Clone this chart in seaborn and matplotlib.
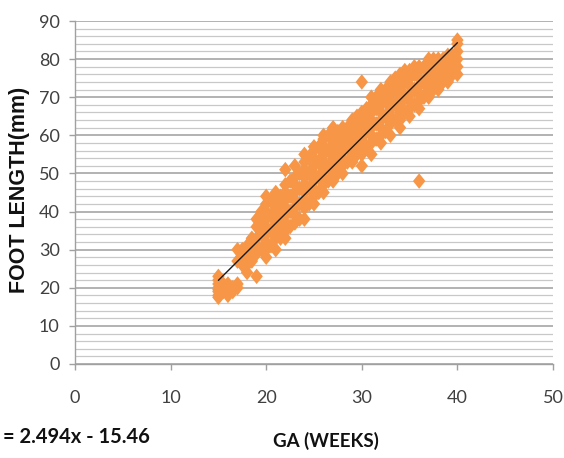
import matplotlib
matplotlib.use("Agg")
import matplotlib.pyplot as plt
import seaborn as sns
import numpy as np
import pandas as pd

# ---- data ----
weeks = [15, 15.5, 16, 16.5, 17, 17.5, 18, 18.5, 19, 19.5, 20, 20.5, 21, 21.5,
         22, 22.5, 23, 23.5, 24, 24.5, 25, 25.5, 26, 26.5, 27, 27.5, 28, 28.5,
         29, 29.5, 30, 30.5, 31, 31.5, 32, 32.5, 33, 33.5, 34, 34.5, 35, 35.5,
         36, 36.5, 37, 37.5, 38, 38.5, 39, 39.5, 40]
foot_lengths = [
    [17.5, 18, 19, 19.5, 20, 21, 22, 23],
    [19, 21],
    [18, 19, 20, 21],
    [19, 20],
    [20, 21, 27, 30],
    [26, 28, 30],
    [24, 26, 28, 30, 31],
    [27, 30, 33],
    [23, 29, 31, 33, 36, 38],
    [30, 34, 38, 40],
    [28, 30, 32, 34, 36, 38, 40, 42, 44],
    [31, 35, 39, 43],
    [30, 33, 35, 37, 39, 41, 43, 45],
    [33, 37, 41, 44],
    [33, 35, 37, 39, 41, 43, 45, 47, 51],
    [36, 40, 44, 48],
    [37, 39, 41, 43, 45, 47, 49, 52],
    [38, 42, 46, 50],
    [38, 41, 43, 45, 47, 49, 51, 53, 55],
    [42, 46, 50, 54],
    [42, 44, 46, 48, 50, 52, 54, 56, 57],
    [45, 49, 53, 57],
    [45, 47, 49, 51, 53, 55, 57, 59, 60],
    [48, 52, 56, 60],
    [48, 50, 52, 54, 56, 58, 60, 62],
    [50, 54, 58, 61],
    [50, 52, 54, 56, 58, 60, 62],
    [53, 57, 60, 62],
    [53, 55, 57, 59, 61, 63, 64],
    [55, 59, 62, 65],
    [52, 55, 57, 59, 61, 63, 65, 66, 74],
    [57, 61, 64, 67],
    [55, 58, 60, 62, 64, 66, 68, 70],
    [59, 63, 67, 70],
    [58, 60, 62, 64, 66, 68, 70, 72],
    [61, 65, 69, 72],
    [60, 63, 65, 67, 69, 71, 73, 74],
    [64, 68, 72, 75],
    [62, 64, 66, 68, 70, 72, 74, 76],
    [66, 70, 74, 77],
    [65, 67, 69, 71, 73, 75, 77],
    [68, 72, 76, 78],
    [48, 67, 69, 71, 73, 75, 77, 78],
    [70, 74, 78],
    [70, 72, 74, 76, 78, 80],
    [72, 76, 80],
    [72, 74, 76, 78, 80],
    [74, 77, 80],
    [74, 76, 78, 80, 81],
    [76, 79, 81],
    [76, 78, 80, 82, 84, 85],
]
slope = 2.494
intercept = -15.46
x_ticks = [0, 10, 20, 30, 40, 50]
y_ticks = [0, 10, 20, 30, 40, 50, 60, 70, 80, 90]
x_label = "GA (WEEKS)"
y_label = "FOOT LENGTH(mm)"
equation = "= 2.494x - 15.46"

rows = [(w, v) for w, vals in zip(weeks, foot_lengths) for v in vals]
df = pd.DataFrame(rows, columns=["ga", "foot"])
trend_x = [min(weeks), max(weeks)]
trend = pd.DataFrame({"ga": trend_x, "foot": [slope * x + intercept for x in trend_x]})

sns.set_theme(style="white")
plt.rcParams["font.family"] = ["Lato", "DejaVu Sans"]

fig = plt.figure(figsize=(5.64, 4.58), dpi=100)
ax = fig.add_axes([75 / 564, 1 - 364 / 458, 478 / 564, 343 / 458])

ax.set_ylim(0, 90)
ax.set_xlim(0, 50)
ax.set_yticks(np.arange(0, 91, 2), minor=True)
ax.set_yticks(y_ticks)
ax.set_xticks(x_ticks)
ax.grid(False)
ax.yaxis.grid(True, which="minor", color="#c8c8c8", lw=0.9)
ax.yaxis.grid(True, which="major", color="#a6a6a6", lw=1.2)
ax.set_axisbelow(True)

tall_diamond = [(0, 1), (0.8, 0), (0, -1), (-0.8, 0), (0, 1)]
sns.scatterplot(data=df, x="ga", y="foot", marker=tall_diamond, s=125, color="#F79646",
                edgecolor="none", linewidth=0, ax=ax, zorder=3)
sns.lineplot(data=trend, x="ga", y="foot", color="#1a1a1a", lw=1.0, ax=ax, zorder=4)

for s in ["top", "right"]:
    ax.spines[s].set_visible(False)
for s in ["left", "bottom"]:
    ax.spines[s].set_color("#a0a0a0")
    ax.spines[s].set_linewidth(1.0)

ax.tick_params(axis="y", which="major", direction="out", length=4, width=1,
               color="#a0a0a0", pad=7, labelsize=13, labelcolor="#404040", left=True)
ax.tick_params(axis="y", which="minor", length=0)
ax.tick_params(axis="x", which="major", direction="out", length=4, width=1,
               color="#a0a0a0", pad=15, labelsize=13, labelcolor="#404040", bottom=True)

ax.set_xlabel(x_label, fontsize=13.5, fontweight="bold", color="#111111")
ax.xaxis.set_label_coords((326 - 75) / 478, (364 - 441) / 343)
ax.xaxis.label.set_va("center")
ax.set_ylabel(y_label, fontsize=15.5, fontweight="bold", color="#111111",
              family=["Liberation Sans", "DejaVu Sans"])
ax.yaxis.set_label_coords((20 - 75) / 478, (364 - 190) / 343)
ax.yaxis.label.set_va("center")

fig.text(3 / 564, 1 - 437 / 458, equation, fontsize=14.5, fontweight="bold",
         color="#111111", ha="left", va="center")

fig.savefig("out.png", dpi=100)
